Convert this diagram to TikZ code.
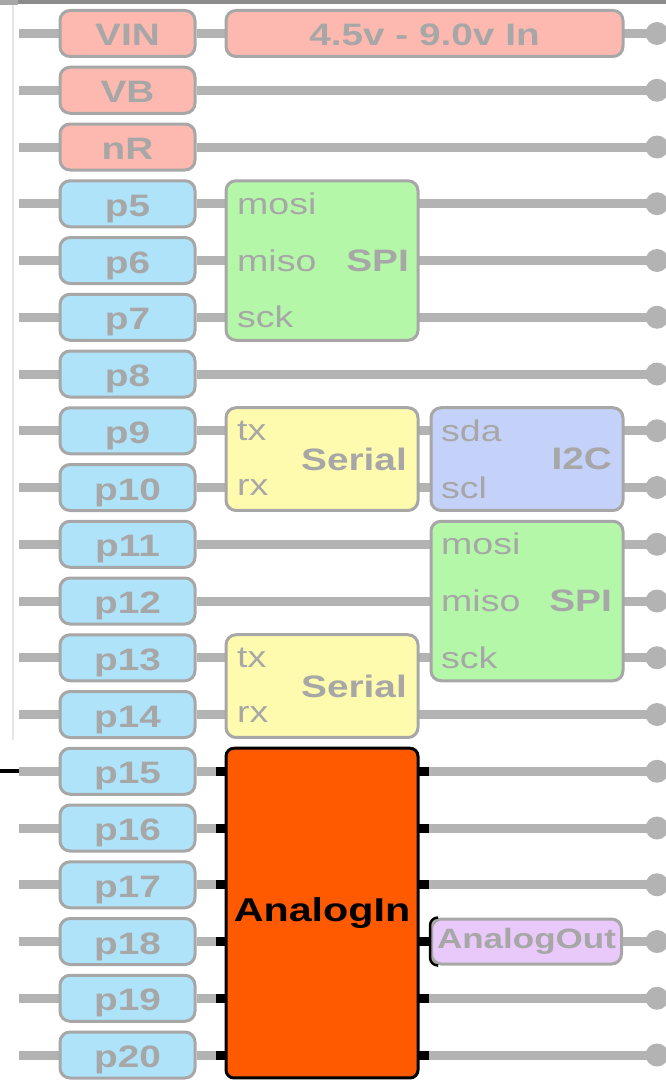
\documentclass[tikz,border=0pt]{standalone}
\usepackage{fontspec}
\setmainfont{Liberation Sans}[FakeStretch=1.25]
\usetikzlibrary{backgrounds}

\definecolor{pinred}{HTML}{FDB9AF}
\definecolor{pinblue}{HTML}{AEE3F9}
\definecolor{spigreen}{HTML}{B5F7A8}
\definecolor{seryellow}{HTML}{FEFBAE}
\definecolor{iicblue}{HTML}{C4D1F9}
\definecolor{aoutpurple}{HTML}{E8C9F9}
\definecolor{ainorange}{HTML}{FF5A00}
\definecolor{edgegray}{HTML}{A7A7A7}
\definecolor{wiregray}{HTML}{B3B3B3}
\definecolor{labelgray}{HTML}{A7A7A7}
\definecolor{topgray}{HTML}{8C8C8C}
\definecolor{rulegray}{HTML}{E6E6E6}

\newcommand{\rowy}[1]{33.5+56.75*#1}

\begin{document}
\begin{tikzpicture}[x=1pt,y=-1pt,
  pinbox/.style={draw=edgegray, line width=3pt, rounded corners=10pt,
    minimum width=135pt, minimum height=46pt, inner sep=0pt,
    text height=25pt, text depth=0pt,
    font=\bfseries\fontsize{31}{31}\selectfont, text=labelgray},
  funcbox/.style={draw=edgegray, line width=3pt, rounded corners=10pt,
    minimum width=192pt, inner sep=0pt},
  sublabel/.style={anchor=west, inner sep=0pt,
    font=\fontsize{30}{30}\selectfont, text=labelgray},
  funclabel/.style={anchor=east, inner sep=0pt,
    font=\bfseries\fontsize{31}{31}\selectfont, text=labelgray},
  wire/.style={draw=wiregray, line width=9pt},
  enddot/.style={circle, fill=wiregray, minimum size=23pt, inner sep=0pt},
  pinstub/.style={fill=black, minimum width=10pt, minimum height=9pt, inner sep=0pt}]
\useasboundingbox (0,0) rectangle (666,1081);

% frame decorations
\fill[topgray] (0,0) rectangle (666,4);
\fill[edgegray] (0,0) rectangle (18,5);
\draw[rulegray, line width=1.5pt] (13,5) -- (13,740);

% header pins (power) and GPIO pins
\foreach \name [count=\i from 0] in {VIN,VB,nR} {
  \node[pinbox, fill=pinred] (\name) at (127.5,{\rowy{\i}}) {\name};
}
\foreach \name [count=\i from 3] in {p5,p6,p7,p8,p9,p10,p11,p12,p13,p14,p15,p16,p17,p18,p19,p20} {
  \node[pinbox, fill=pinblue] (\name) at (127.5,{\rowy{\i}}) {\name};
}
\foreach \name [count=\i from 0] in {VIN,VB,nR,p5,p6,p7,p8,p9,p10,p11,p12,p13,p14,p15,p16,p17,p18,p19,p20} {
  \coordinate (L\name) at (19,{\rowy{\i}});
  \node[enddot] (D\name) at (657,{\rowy{\i}}) {};
}

% supply range
\node[funcbox, fill=pinred, minimum width=397pt, minimum height=46pt,
  text height=25pt, text depth=0pt,
  font=\bfseries\fontsize{31}{31}\selectfont, text=labelgray] (vinrange) at (424.5,33.5) {4.5v - 9.0v In};

% SPI on p5-p7
\node[funcbox, fill=spigreen, minimum height=159.5pt] (spiA) at (322,260.5) {};
\node[sublabel] (spiAmosi) at (237,{\rowy{3}}) {mosi};
\node[sublabel] (spiAmiso) at (237,{\rowy{4}}) {miso};
\node[sublabel] (spiAsck) at (237,{\rowy{5}}) {sck};
\node[funclabel] (spiAname) at (409,{\rowy{4}}) {SPI};

% Serial on p9-p10
\node[funcbox, fill=seryellow, minimum height=102.75pt] (serA) at (322,459.1) {};
\node[sublabel] (serAtx) at (237,{\rowy{7}}) {tx};
\node[sublabel] (serArx) at (237,{\rowy{8}}) {rx};
\node[funclabel] (serAname) at (407,459.1) {Serial};

% I2C on p9-p10
\node[funcbox, fill=iicblue, minimum height=102.75pt] (iic) at (527,459.1) {};
\node[sublabel] (iicsda) at (441,{\rowy{7}}) {sda};
\node[sublabel] (iicscl) at (441,{\rowy{8}}) {scl};
\node[funclabel] (iicname) at (612,459.1) {I2C};

% SPI on p11-p13
\node[funcbox, fill=spigreen, minimum height=159.5pt] (spiB) at (527,601) {};
\node[sublabel] (spiBmosi) at (441,{\rowy{9}}) {mosi};
\node[sublabel] (spiBmiso) at (441,{\rowy{10}}) {miso};
\node[sublabel] (spiBsck) at (441,{\rowy{11}}) {sck};
\node[funclabel] (spiBname) at (612,{\rowy{10}}) {SPI};

% Serial on p13-p14
\node[funcbox, fill=seryellow, minimum height=102.75pt] (serB) at (322,686.1) {};
\node[sublabel] (serBtx) at (237,{\rowy{11}}) {tx};
\node[sublabel] (serBrx) at (237,{\rowy{12}}) {rx};
\node[funclabel] (serBname) at (407,686.1) {Serial};

% AnalogIn on p15-p20
\foreach \i in {13,...,18} {
  \node[pinstub] (ainL\i) at (221,{\rowy{\i}}) {};
  \node[pinstub] (ainR\i) at (424,{\rowy{\i}}) {};
}
\node[funcbox, draw=black, fill=ainorange, rounded corners=8pt, minimum height=329.75pt,
  font=\bfseries\fontsize{33}{33}\selectfont] (ain) at (322,913.1) {AnalogIn};

% AnalogOut on p18
\node[funcbox, fill=aoutpurple, minimum width=190pt, minimum height=45pt,
  font=\bfseries\fontsize{28}{28}\selectfont, text=labelgray] (aout) at (526.5,{\rowy{16}}) {AnalogOut};
\draw[black, line width=2.5pt, rounded corners=8pt]
  ([xshift=7pt]aout.north west) -- (aout.north west) -- (aout.south west) -- ([xshift=7pt]aout.south west);

% wires behind everything
\begin{pgfonlayer}{background}
  \foreach \name in {VIN,VB,nR,p5,p6,p7,p8,p9,p10,p11,p12,p13,p14,p15,p16,p17,p18,p19,p20} {
    \draw[wire] (L\name) -- (\name.west);
    \draw[wire] (\name.east) -- (D\name.center);
  }
\end{pgfonlayer}

% external lead on p15
\coordinate (ext) at (0,{\rowy{13}});
\draw[black, line width=4pt] (ext) -- (Lp15);
\end{tikzpicture}
\end{document}
